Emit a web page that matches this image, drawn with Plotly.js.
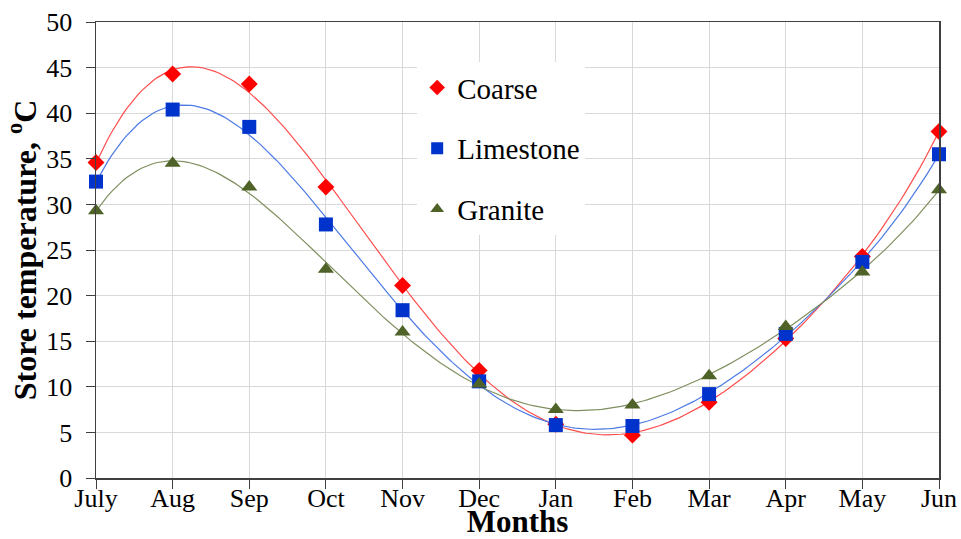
<!DOCTYPE html>
<html>
<head>
<meta charset="utf-8">
<script src="https://cdn.plot.ly/plotly-3.0.1.min.js"></script>
<style>html,body{margin:0;padding:0;background:#fff;}#chart{width:961px;height:539px;}</style>
</head>
<body>
<div id="chart"></div>
<script>
const months = ["July","Aug","Sep","Oct","Nov","Dec","Jan","Feb","Mar","Apr","May","Jun"];
const coarse = [34.6, 44.3, 43.2, 31.9, 21.1, 11.8, 5.9, 4.7, 8.3, 15.3, 24.3, 38.0];
const limestone = [32.5, 40.4, 38.5, 27.8, 18.4, 10.6, 5.8, 5.7, 9.2, 15.8, 23.7, 35.5];
const granite = [29.3, 34.5, 31.9, 22.9, 16.0, 10.3, 7.5, 8.0, 11.2, 16.6, 22.6, 31.6];

const DEG = 6;
function polyfit(xs, ys, deg){
  const n = deg+1;
  const A = [];
  for(let i=0;i<n;i++){A.push(new Array(n+1).fill(0));}
  for(let k=0;k<xs.length;k++){
    const xv = xs[k]/11;
    for(let i=0;i<n;i++){
      for(let j=0;j<n;j++) A[i][j]+=Math.pow(xv,i+j);
      A[i][n]+=ys[k]*Math.pow(xv,i);
    }
  }
  for(let i=0;i<n;i++){
    let p=i;for(let r=i+1;r<n;r++) if(Math.abs(A[r][i])>Math.abs(A[p][i])) p=r;
    [A[i],A[p]]=[A[p],A[i]];
    for(let r=0;r<n;r++){ if(r===i) continue; const f=A[r][i]/A[i][i]; for(let c=i;c<=n;c++) A[r][c]-=f*A[i][c]; }
  }
  return A.map((row,i)=>row[n]/row[i]);
}
const xIdx = months.map((m,i)=>i);
function trend(ys){
  const c = polyfit(xIdx, ys, DEG);
  const xs=[], yv=[];
  for(let t=0;t<=11.0001;t+=0.05){ xs.push(t); let v=0; for(let i=0;i<c.length;i++) v+=c[i]*Math.pow(t/11,i); yv.push(v); }
  return {x:xs,y:yv};
}
const series = [
  {name:"Coarse", y:coarse, mc:"#ff0000", lc:"#ff4d4d", sym:"diamond", size:13},
  {name:"Limestone", y:limestone, mc:"#0033cc", lc:"#4d7ae6", sym:"square", size:14},
  {name:"Granite", y:granite, mc:"#4f6228", lc:"#7f8f5f", sym:"triangle-up", size:14}
];
const traces = [];
series.forEach((s,i)=>{
  const t = trend(s.y);
  traces.push({x:t.x, y:t.y, mode:"lines", line:{color:s.lc, width:1.2}, showlegend:false, hoverinfo:"skip"});
});
series.forEach((s,i)=>{
  traces.push({x:xIdx, y:s.y, name:s.name, mode:"markers", legendgroup:"g"+i,
    marker:{symbol:s.sym, size:s.size, color:s.mc}, cliponaxis:false});
});
const font = {family:"Liberation Serif, Times New Roman, serif", color:"#000"};
const layout = {
  width:961, height:539,
  margin:{l:96, r:22, t:22, b:61},
  paper_bgcolor:"#fff", plot_bgcolor:"#fff",
  font:Object.assign({size:26}, font),
  showlegend:true,
  legend:{x:0.381, y:0.912, xanchor:"left", yanchor:"top", bgcolor:"#fff",
    font:Object.assign({size:29}, font), traceorder:"grouped", tracegroupgap:20,
    itemsizing:"constant"},
  xaxis:{range:[0,11], tickvals:xIdx, ticktext:months, showgrid:true, gridcolor:"#d9d9d9", gridwidth:1,
    showline:true, linecolor:"#404040", linewidth:1.5, mirror:true, ticks:"outside", ticklen:9, tickcolor:"#404040",
    ticklabelstandoff:-13,
    tickfont:Object.assign({size:26}, font), zeroline:false,
    title:{text:"<b>Months</b>", font:Object.assign({size:31}, font), standoff:3}},
  yaxis:{range:[0,50], dtick:5, showgrid:true, gridcolor:"#d9d9d9", gridwidth:1,
    showline:true, linecolor:"#404040", linewidth:1.5, mirror:true, ticks:"outside", ticklen:9, tickcolor:"#404040",
    ticklabelstandoff:8,
    tickfont:Object.assign({size:26}, font), zeroline:false,
    title:{text:"<b>Store temperature, <sup>o</sup>C</b>", font:Object.assign({size:32}, font), standoff:0}}
};
Plotly.newPlot("chart", traces, layout, {displayModeBar:false, staticPlot:true});
</script>
</body>
</html>
